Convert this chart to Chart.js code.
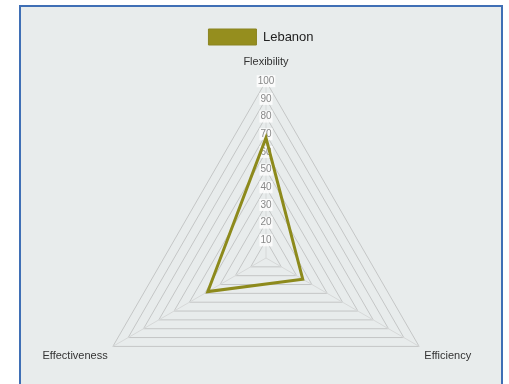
<!DOCTYPE html>
<html>
  <head>
    <title>Lebanon</title>
    <script src="https://cdn.jsdelivr.net/npm/chart.js"></script>
    <style>
      body { margin: 0; background: #ffffff; }
      .quadro {
        position: absolute;
        left: 19px;
        top: 5px;
        width: 480px;
        height: 400px;
        border: 2px solid #3f6fb5;
        background: #e8ecec;
        overflow: hidden;
      }
      .quadro canvas { position: absolute; left: 0; top: 0; }
    </style>
  </head>

  <body>
    <div class="quadro">
      <canvas id="radar" width="480" height="444"></canvas>
    </div>

    <script>
      var eixos = ["Flexibility", "Efficiency", "Effectiveness"];
      var lebanon = [68, 24, 38];

      // the legend sits above the triangle's tip, so it shouldn't push the chart down
      var recuoLegenda = 10;
      var legendaCompacta = {
        id: "legendaCompacta",
        beforeInit: function (chart) {
          var fitOriginal = chart.legend.fit;
          chart.legend.fit = function () {
            fitOriginal.bind(chart.legend)();
            this.height -= recuoLegenda;
          };
        },
        afterLayout: function (chart) {
          // give the legend its full box back so it isn't clipped when drawn
          chart.legend.height += recuoLegenda;
          chart.legend.bottom += recuoLegenda;
        },
      };

      var radar = new Chart(document.getElementById("radar").getContext("2d"), {
        type: "radar",
        data: {
          labels: eixos,
          datasets: [
            {
              label: "Lebanon",
              data: lebanon,
              borderColor: "#8d8a1c",
              backgroundColor: "#958e1e",
              borderWidth: 3,
              fill: false,
              pointRadius: 0,
            },
          ],
        },
        options: {
          responsive: false,
          animation: false,
          layout: { padding: { left: 0, right: 0, top: 12, bottom: 0 } },
          plugins: {
            legend: {
              labels: {
                boxWidth: 48,
                boxHeight: 16,
                color: "#222",
                font: { family: "Liberation Sans", size: 13 },
                generateLabels: function (chart) {
                  return [{
                    text: "Lebanon",
                    fillStyle: "#958e1e",
                    strokeStyle: "#8a8420",
                    lineWidth: 1,
                    fontColor: "#222",
                  }];
                },
              },
            },
            tooltip: { enabled: false },
          },
          scales: {
            r: {
              min: 0,
              max: 100,
              // triangle sits a little right of the frame's middle
              afterSetDimensions: function (scale) {
                scale.xCenter += 5;
              },
              ticks: {
                stepSize: 10,
                color: "#888",
                font: { family: "Liberation Sans", size: 10 },
                backdropColor: "rgba(255,255,255,0.8)",
                backdropPadding: 1,
              },
              grid: { color: "#c4c6c6", lineWidth: 1 },
              angleLines: { color: "#d6d8d8", lineWidth: 1 },
              pointLabels: {
                color: "#333",
                padding: function (ctx) {
                  return ctx.index === 0 ? 7 : 0;
                },
                font: { family: "Liberation Sans", size: 11 },
              },
            },
          },
        },
        plugins: [legendaCompacta],
      });
    </script>
  </body>
</html>
